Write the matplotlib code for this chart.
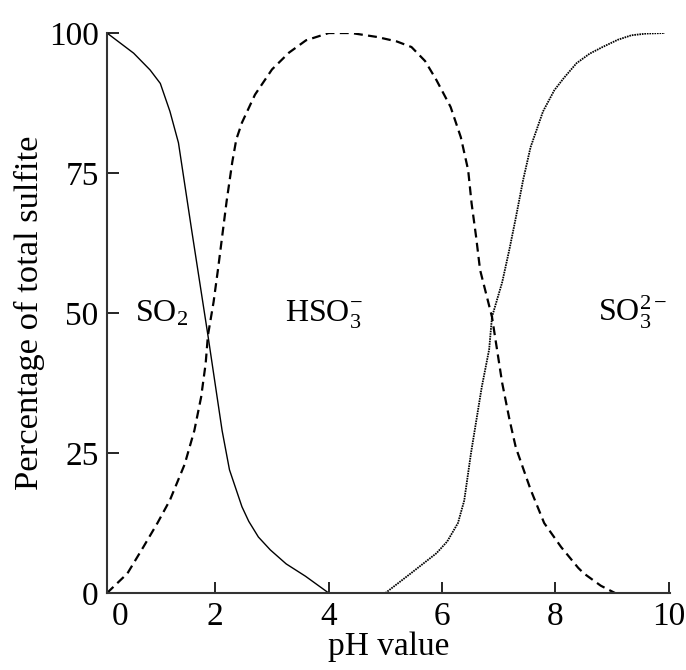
import numpy as np
import matplotlib
matplotlib.use('Agg')
import matplotlib.pyplot as plt

# sulfite speciation vs pH
ph_so2 = [0.09, 0.56, 0.85, 1.03, 1.2, 1.35, 1.58, 1.87, 2.12, 2.25, 2.47, 2.59, 2.76,
          2.97, 3.25, 3.59, 4.0]
pct_so2 = [100, 96.4, 93.4, 91, 86, 80.4, 65, 46, 29, 22, 15.4, 12.8, 10.0,
           7.7, 5.2, 3.0, 0]

ph_hso3 = [0.09, 0.45, 0.73, 0.98, 1.2, 1.46, 1.63, 1.75, 1.83, 1.87, 1.97, 2.05, 2.2,
           2.3, 2.37, 2.47, 2.7, 3.0, 3.3, 3.6, 4.0, 4.4, 4.85, 5.2, 5.46, 5.7, 5.9,
           6.15, 6.33, 6.46, 6.52, 6.6, 6.67, 6.88, 7.06, 7.19, 7.3, 7.56, 7.8, 8.1,
           8.4, 8.5, 8.8, 9.05]
pct_hso3 = [0, 3.5, 8.2, 12.5, 16.6, 23, 29, 35, 41, 46, 52, 58, 70,
            77, 81, 84, 89, 93.5, 96.5, 98.7, 100, 100, 99.3, 98.5, 97.5, 95, 91.6,
            86.8, 81.4, 75.5, 69.6, 63.6, 57.7, 49.3, 37.5, 30.9, 26, 18.5, 12.5, 8.2,
            4.5, 3.5, 1.3, 0]

ph_so3 = [5.0, 5.46, 5.9, 6.09, 6.28, 6.39, 6.51, 6.7, 6.83, 6.88, 7.06, 7.19, 7.3,
          7.43, 7.56, 7.78, 7.98, 8.15, 8.37, 8.6, 8.83, 9.1, 9.34, 9.6, 9.93]
pct_so3 = [0, 3.6, 7.1, 9.2, 12.5, 16.5, 25, 36.8, 43.5, 49.3, 55.5, 61.5, 67,
           73.8, 79.6, 86, 89.8, 92, 94.6, 96.3, 97.5, 98.8, 99.6, 99.9, 100]

species = ['SO$_2$', 'HSO$_3^{-}$', 'SO$_3^{2-}$']
species_x = [0.59, 3.23, 8.75]
species_y = [48.4, 48.4, 48.4]

plt.rcParams['font.family'] = 'Liberation Serif'
plt.rcParams['mathtext.fontset'] = 'custom'
plt.rcParams['mathtext.rm'] = 'Liberation Serif'
plt.rcParams['mathtext.it'] = 'Liberation Serif:italic'

fig = plt.figure(figsize=(6.86, 6.70), dpi=100)
ax = fig.add_axes([0.156, 0.1149, 0.8207, 0.8358])

ax.plot(ph_so2, pct_so2, color='black', lw=1.0)
ax.plot(ph_hso3, pct_hso3, color='black', lw=1.6, dashes=(4, 2.4))
ax.plot(ph_so3, pct_so3, color='black', lw=1.3, linestyle=(0, (0.9, 0.5)))

for lab, x, y in zip(species, species_x, species_y):
	ax.text(x, y, lab, fontsize=23, ha='left', va='baseline')

ax.set_xlim(0.09, 10.02)
ax.set_ylim(0, 100)
ax.set_xticks([2, 4, 6, 8, 10])
ax.set_yticks([0, 25, 50, 75, 100])
ax.set_xticks([0.32], minor=True)
ax.set_xticklabels(['0'], minor=True)
ax.tick_params(which='major', direction='in', length=8, width=1.2, labelsize=24, pad=6, colors='black')
ax.tick_params(which='minor', axis='x', length=0, labelsize=24, pad=6)
ax.tick_params(axis='y', length=8.5)

for s in ['top', 'right']:
	ax.spines[s].set_visible(False)
for s in ['left', 'bottom']:
	ax.spines[s].set_linewidth(1.5)
	ax.spines[s].set_color('#333333')

ax.set_xlabel('pH value', fontsize=24, labelpad=0)
ax.set_ylabel('Percentage of total sulfite', fontsize=24.8, labelpad=3)

fig.savefig('out.png', dpi=100)
